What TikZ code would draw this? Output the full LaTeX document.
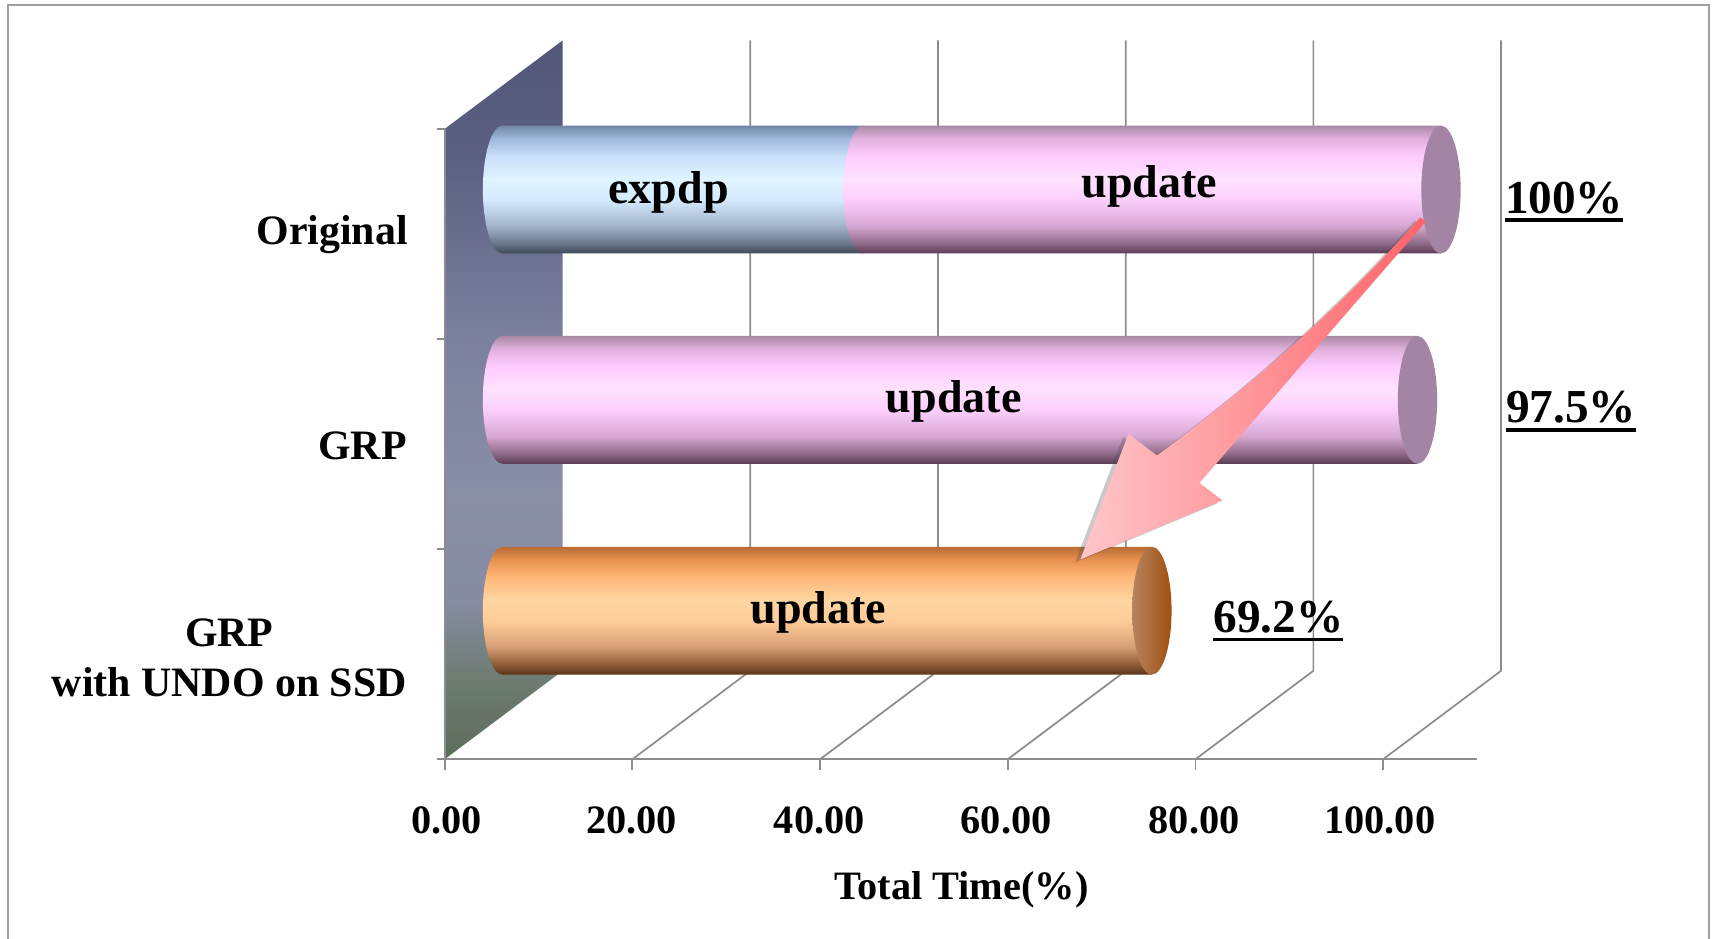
\documentclass[tikz,border=0pt]{standalone}
\usepackage{fontspec}
\setmainfont{Liberation Serif}
\usetikzlibrary{shadows}

% palette
\definecolor{framegray}{RGB}{160,160,160}
\definecolor{gridgray}{RGB}{140,140,140}
\definecolor{pinkcap}{RGB}{164,132,164}
\definecolor{arrowlight}{RGB}{255,198,202}
\definecolor{arrowdark}{RGB}{255,100,104}
\definecolor{capoA}{RGB}{182,132,96}
\definecolor{capoB}{RGB}{160,80,16}

% side wall
\definecolor{wallA}{RGB}{92,108,90}
\definecolor{wallB}{RGB}{110,124,114}
\definecolor{wallC}{RGB}{134,140,162}
\definecolor{wallD}{RGB}{138,143,168}
\definecolor{wallE}{RGB}{122,127,156}
\definecolor{wallF}{RGB}{92,96,130}
\definecolor{wallG}{RGB}{82,86,120}
\pgfdeclareverticalshading{wallshade}{100bp}{color(0bp)=(wallA); color(25bp)=(wallA); color(30.7bp)=(wallB); color(36bp)=(wallC); color(43.6bp)=(wallD); color(55bp)=(wallE); color(66.5bp)=(wallF); color(75bp)=(wallG); color(100bp)=(wallG)}

% blue cylinder
\definecolor{blA}{RGB}{62,72,88}
\definecolor{blB}{RGB}{106,120,140}
\definecolor{blC}{RGB}{164,180,202}
\definecolor{blD}{RGB}{212,234,255}
\definecolor{blE}{RGB}{224,244,255}
\definecolor{blF}{RGB}{200,224,250}
\definecolor{blG}{RGB}{160,184,216}
\definecolor{blH}{RGB}{112,136,166}
\pgfdeclareverticalshading{blueshade}{100bp}{color(0bp)=(blA); color(25bp)=(blA); color(29bp)=(blB); color(36bp)=(blC); color(46bp)=(blD); color(54bp)=(blE); color(63bp)=(blF); color(70bp)=(blG); color(75bp)=(blH); color(100bp)=(blH)}

% pink cylinder
\definecolor{pkA}{RGB}{90,60,84}
\definecolor{pkB}{RGB}{142,106,136}
\definecolor{pkC}{RGB}{216,168,212}
\definecolor{pkD}{RGB}{252,206,252}
\definecolor{pkE}{RGB}{255,226,255}
\definecolor{pkF}{RGB}{255,204,255}
\definecolor{pkG}{RGB}{224,176,220}
\definecolor{pkH}{RGB}{168,138,164}
\pgfdeclareverticalshading{pinkshade}{100bp}{color(0bp)=(pkA); color(25bp)=(pkA); color(29bp)=(pkB); color(36bp)=(pkC); color(46bp)=(pkD); color(54bp)=(pkE); color(63bp)=(pkF); color(70bp)=(pkG); color(75bp)=(pkH); color(100bp)=(pkH)}

% orange cylinder
\definecolor{orA}{RGB}{92,52,24}
\definecolor{orB}{RGB}{142,92,56}
\definecolor{orC}{RGB}{216,160,120}
\definecolor{orD}{RGB}{255,204,152}
\definecolor{orE}{RGB}{255,214,162}
\definecolor{orF}{RGB}{255,184,120}
\definecolor{orG}{RGB}{232,144,80}
\definecolor{orH}{RGB}{184,108,52}
\pgfdeclareverticalshading{orangeshade}{100bp}{color(0bp)=(orA); color(25bp)=(orA); color(29bp)=(orB); color(36bp)=(orC); color(46bp)=(orD); color(54bp)=(orE); color(63bp)=(orF); color(70bp)=(orG); color(75bp)=(orH); color(100bp)=(orH)}

% cylinder body: shading, left x, right x, top y, bottom y
\newcommand\cylbody[5]{%
  \path[shading=#1] (#2,#5) -- (#3,#5) -- (#3,#4)
    -- (#2,#4) arc[start angle=270, end angle=90, x radius=18, y radius=58.5] -- cycle;}

% thick underline for the percentages
\newcommand\pctline[1]{\setbox0=\hbox{#1}\rlap{\rule[-2.3pt]{\wd0}{0.9pt}}\box0}

\begin{document}
\begin{tikzpicture}[x=0.01cm, y=-0.01cm,
  grid/.style={draw=gridgray, line width=0.45pt},
  catlabel/.style={anchor=east, inner sep=0pt, align=center,
    font=\fontsize{10.9}{13.1}\selectfont\bfseries},
  barlabel/.style={inner sep=0pt, font=\fontsize{12}{14}\selectfont\bfseries},
  pctlabel/.style={anchor=base west, inner sep=0pt,
    font=\fontsize{12.3}{14}\selectfont\bfseries},
  ticklabel/.style={anchor=base, inner sep=0pt,
    font=\fontsize{10.5}{12}\selectfont\bfseries}]

\useasboundingbox (0,0) rectangle (1568,859);

% outer frame
\draw[framegray, line width=0.6pt] (7.3,880) -- (7.3,4.6) -- (1564.5,4.6) -- (1564.5,880);

% side wall
\path[shading=wallshade] (407,118) -- (515,37) -- (515,614) -- (407,695) -- cycle;

% back and floor gridlines
\foreach \i in {1,...,5} {
  \draw[grid] ({515+171.8*\i},37) -- ({515+171.8*\i},614) -- ({407+171.8*\i},695);
}

% axes and ticks
\draw[grid] (407,118) -- (407,695);
\draw[grid] (400,695) -- (1352,695);
\foreach \i in {0,...,5} {
  \draw[grid] ({407+171.8*\i},695) -- ({407+171.8*\i},705);
}
\foreach \j in {0,...,3} {
  \draw[grid] (400,{118+192.33*\j}) -- (407,{118+192.33*\j});
}

% bar: Original
\cylbody{blueshade}{460}{790}{115}{232}
\cylbody{pinkshade}{790}{1319}{115}{232}
\fill[pinkcap] (1319,173.5) ellipse[x radius=18, y radius=58.5];

% bar: GRP
\cylbody{pinkshade}{460}{1297.5}{307.5}{424.5}
\fill[pinkcap] (1297.5,366) ellipse[x radius=18, y radius=58.5];

% bar: GRP with UNDO on SSD
\cylbody{orangeshade}{460}{1054.4}{500.5}{617.5}
\path[left color=capoA, right color=capoB] (1054.4,559) ellipse[x radius=18, y radius=58.5];

% labels inside the bars
\node[barlabel] (lexp) at (612,176) {expdp};
\node[barlabel] (lup1) at (1052,171) {update};
\node[barlabel] (lup2) at (873,367) {update};
\node[barlabel] (lup3) at (749,561) {update};

% category labels
\node[catlabel] (cat1) at (374,215) {Original};
\node[catlabel] (cat2) at (373,408) {GRP};
\node[catlabel] (cat3) at (373,602) {GRP\\with UNDO on SSD};

% totals
\node[pctlabel] (p1) at (1377,195) {\pctline{100\%}};
\node[pctlabel] (p2) at (1378,387) {\pctline{97.5\%}};
\node[pctlabel] (p3) at (1110,579) {\pctline{69.2\%}};

% value axis
\node[ticklabel] (t0) at (409,763) {0.00};
\node[ticklabel] (t1) at (578,763) {20.00};
\node[ticklabel] (t2) at (750,763) {40.00};
\node[ticklabel] (t3) at (921,763) {60.00};
\node[ticklabel] (t4) at (1093,763) {80.00};
\node[ticklabel] (t5) at (1263,763) {100.00};
\node[ticklabel] (ttl) at (880,823) {Total Time(\%)};

% reduction arrow
\path[drop shadow={shadow xshift=-0.5mm, shadow yshift=-0.3mm, opacity=0.3, fill=black!70},
      left color=arrowlight, right color=arrowdark]
  (1300,199) .. controls (1236,272) and (1156,345) .. (1059,417)
  -- (1033,397) -- (989,512) -- (1119,458) -- (1098,442) -- (1305,203) -- cycle;

\end{tikzpicture}
\end{document}
